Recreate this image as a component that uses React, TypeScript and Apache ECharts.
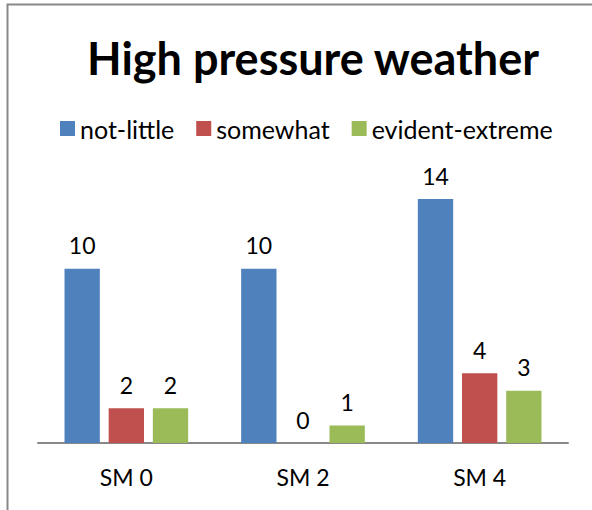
import React, { useEffect, useRef } from "react";
import * as echarts from "echarts";

const categories = ["SM 0", "SM 2", "SM 4"];
const seriesNames = ["not-little", "somewhat", "evident-extreme"];
const notLittle = [10, 10, 14];
const somewhat = [2, 0, 4];
const evidentExtreme = [2, 1, 3];
const colors = ["#4F81BD", "#C0504D", "#9BBB59"];

const FONT = "Lato";

export default function App() {
  const ref = useRef<HTMLDivElement>(null);
  useEffect(() => {
    const chart = echarts.init(ref.current!, null, { renderer: "svg" });
    const values = [notLittle, somewhat, evidentExtreme];
    chart.setOption({
      animation: false,
      backgroundColor: "#ffffff",
      title: {
        text: "High pressure weather",
        left: 308,
        textAlign: "center",
        top: 30,
        textStyle: { fontFamily: FONT, fontSize: 45, fontWeight: "bold", color: "#000" },
      },
      legend: {
        top: 111,
        left: 55,
        width: 540,
        itemWidth: 15,
        itemHeight: 15,
        itemGap: 22,
        icon: "rect",
        textStyle: { fontFamily: FONT, fontSize: 25, color: "#000" },
        data: seriesNames,
      },
      grid: { left: 38, right: 24, top: 199, bottom: 67 },
      xAxis: {
        type: "category",
        data: categories,
        axisLine: { lineStyle: { color: "#888", width: 2 } },
        axisTick: { show: false },
        axisLabel: { fontFamily: FONT, fontSize: 23, color: "#000", margin: 22 },
      },
      yAxis: {
        type: "value",
        min: 0,
        max: 14,
        show: false,
        splitLine: { show: false },
      },
      graphic: [
        {
          type: "polyline",
          shape: { points: [[7.5, 520], [7.5, 4.5], [600, 4.5]] },
          style: { stroke: "#888", lineWidth: 2, fill: "none" },
          silent: true,
        },
      ],
      series: seriesNames.map((name, i) => ({
        name,
        type: "bar",
        data: values[i],
        barGap: "25%",
        barCategoryGap: "30%",
        itemStyle: { color: colors[i] },
        label: {
          show: true,
          position: "top",
          distance: 12,
          fontFamily: FONT,
          fontSize: 23,
          color: "#000",
        },
      })),
    });
    return () => chart.dispose();
  }, []);
  return (
    <div
      ref={ref}
      style={{ position: "absolute", left: 0, top: 0, width: 592, height: 510 }}
    />
  );
}
